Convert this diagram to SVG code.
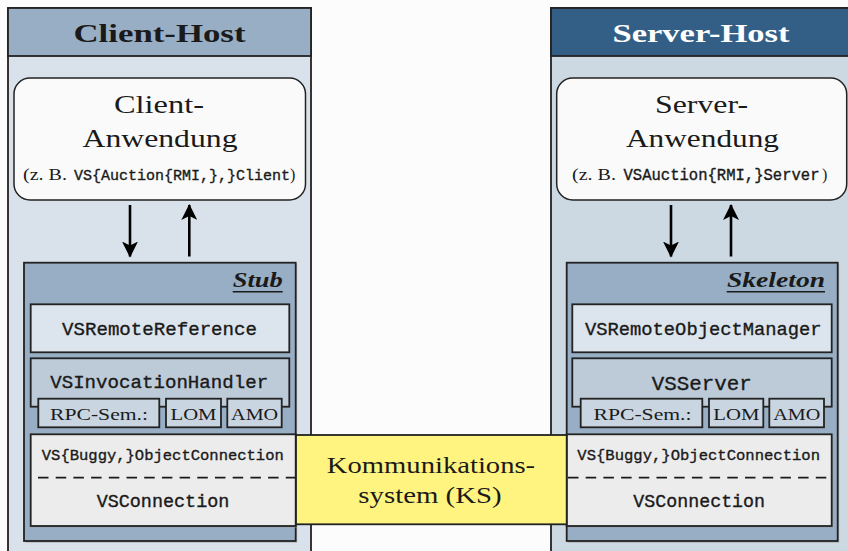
<svg xmlns="http://www.w3.org/2000/svg" width="848" height="551" viewBox="0 0 848 551">
<defs>
<style>
.serif{font-family:"Liberation Serif","DejaVu Serif",serif;fill:#1a1a1a}
.mono{font-family:"Liberation Mono","DejaVu Sans Mono",monospace;fill:#1a1a1a;stroke:#1a1a1a;stroke-width:0.35}
.ln{stroke:#222;stroke-width:1.8}
.thin{stroke:#222;stroke-width:1.5}
.inner{fill:#dce5ed}
.tab{fill:#c9d5e0}
.conn{fill:#ececec}
.arrow{stroke:#000;stroke-width:2.6;fill:none}
</style>
<marker id="ah" viewBox="0 0 16 16" refX="15" refY="8" markerWidth="16" markerHeight="16" markerUnits="userSpaceOnUse" orient="auto">
<path d="M0,0 L16,8 L0,16 L4,8 Z" fill="#000"/>
</marker>
</defs>
<rect width="848" height="551" fill="#fcfcfc"/>

<g id="client-host">
<rect x="8" y="8" width="303" height="560" fill="#d9e2ea" class="ln"/>
<rect x="8" y="8" width="303" height="48" fill="#98aec4" class="ln"/>
<text x="159.5" y="42" class="serif" font-size="26" font-weight="bold" text-anchor="middle" textLength="172" lengthAdjust="spacingAndGlyphs">Client-Host</text>
</g>

<g id="server-host">
<rect x="551" y="8" width="310" height="560" fill="#ccd8e2" class="ln"/>
<rect x="551" y="8" width="310" height="48" fill="#335f87" class="ln"/>
<text x="701" y="42" class="serif" font-size="26" font-weight="bold" text-anchor="middle" style="fill:#ffffff" textLength="177" lengthAdjust="spacingAndGlyphs">Server-Host</text>
</g>

<g id="client-app">
<rect x="14" y="78" width="291.5" height="122" rx="16" fill="#fafafa" class="thin"/>
<text x="159" y="112.5" class="serif" font-size="25" text-anchor="middle" textLength="90" lengthAdjust="spacingAndGlyphs">Client-</text>
<text x="160" y="147" class="serif" font-size="25" text-anchor="middle" textLength="155" lengthAdjust="spacingAndGlyphs">Anwendung</text>
<text y="180" font-size="15"><tspan x="23" class="serif" font-size="16" textLength="44" lengthAdjust="spacingAndGlyphs">(z. B.</tspan><tspan x="74" class="mono" textLength="216" lengthAdjust="spacingAndGlyphs">VS{Auction{RMI,},}Client</tspan><tspan x="290" class="serif" font-size="16">)</tspan></text>
</g>

<g id="server-app">
<rect x="556.7" y="78" width="290" height="122" rx="16" fill="#fafafa" class="thin"/>
<text x="701.5" y="112.5" class="serif" font-size="25" text-anchor="middle" textLength="93" lengthAdjust="spacingAndGlyphs">Server-</text>
<text x="702.5" y="147" class="serif" font-size="25" text-anchor="middle" textLength="153" lengthAdjust="spacingAndGlyphs">Anwendung</text>
<text y="180" font-size="15.6"><tspan x="572" class="serif" font-size="16" textLength="44" lengthAdjust="spacingAndGlyphs">(z. B.</tspan><tspan x="623.5" class="mono" textLength="196" lengthAdjust="spacingAndGlyphs">VSAuction{RMI,}Server</tspan><tspan x="822" class="serif" font-size="16">)</tspan></text>
</g>

<g id="connectors">
<line x1="130" y1="205" x2="130" y2="256.5" class="arrow" marker-end="url(#ah)"/>
<line x1="189.3" y1="256.5" x2="189.3" y2="205" class="arrow" marker-end="url(#ah)"/>
<line x1="671" y1="205" x2="671" y2="256.5" class="arrow" marker-end="url(#ah)"/>
<line x1="731" y1="256.5" x2="731" y2="205" class="arrow" marker-end="url(#ah)"/>
</g>

<g id="stub">
<rect x="25.5" y="264.5" width="271.7" height="278.3" fill="#999" opacity="0.5"/>
<rect x="24" y="262.7" width="271.7" height="278.3" fill="#98aec4" class="ln"/>
<text x="282.7" y="286.7" class="serif" font-size="20" font-weight="bold" font-style="italic" text-anchor="end" textLength="50" lengthAdjust="spacingAndGlyphs">Stub</text>
<line x1="232.7" y1="291.7" x2="282.7" y2="291.7" stroke="#1a1a1a" stroke-width="1.5"/>
</g>

<g id="vsremotereference">
<rect x="30.7" y="304.3" width="258.6" height="48" class="inner ln"/>
<text x="159.5" y="335" class="mono" font-size="19" text-anchor="middle" textLength="195" lengthAdjust="spacingAndGlyphs">VSRemoteReference</text>
</g>

<g id="vsinvocationhandler">
<rect x="30.7" y="358.3" width="258.6" height="48.4" fill="#bdcbd8" class="ln"/>
<text x="159.2" y="388.3" class="mono" font-size="19" text-anchor="middle" textLength="218" lengthAdjust="spacingAndGlyphs">VSInvocationHandler</text>
</g>

<g id="stub-rpc-sem">
<rect x="38.3" y="398.7" width="121" height="28.6" class="tab ln"/>
<text x="99" y="420" class="serif" font-size="17" text-anchor="middle" textLength="98" lengthAdjust="spacingAndGlyphs">RPC-Sem.:</text>
</g>
<g id="stub-lom">
<rect x="166" y="398.7" width="55" height="28.6" class="tab ln"/>
<text x="193.5" y="420" class="serif" font-size="17" text-anchor="middle" textLength="46" lengthAdjust="spacingAndGlyphs">LOM</text>
</g>
<g id="stub-amo">
<rect x="227.3" y="398.7" width="54.4" height="28.6" class="tab ln"/>
<text x="254.6" y="420" class="serif" font-size="17" text-anchor="middle" textLength="47" lengthAdjust="spacingAndGlyphs">AMO</text>
</g>

<g id="client-connection">
<rect x="32" y="436" width="265" height="91.7" fill="#999" opacity="0.5"/>
<rect x="30.7" y="434.3" width="265" height="91.7" class="conn ln"/>
<text x="162.8" y="460" class="mono" font-size="15.5" text-anchor="middle" textLength="242" lengthAdjust="spacingAndGlyphs">VS{Buggy,}ObjectConnection</text>
<line x1="38" y1="477.7" x2="295" y2="477.7" stroke="#1a1a1a" stroke-width="1.8" stroke-dasharray="10.5 7.2"/>
<text x="163" y="506.7" class="mono" font-size="18.4" text-anchor="middle" textLength="132.7" lengthAdjust="spacingAndGlyphs">VSConnection</text>
</g>

<g id="skeleton">
<rect x="568.2" y="264.5" width="271" height="278.3" fill="#999" opacity="0.5"/>
<rect x="566.7" y="262.7" width="271" height="278.3" fill="#98aec4" class="ln"/>
<text x="825" y="286.7" class="serif" font-size="20" font-weight="bold" font-style="italic" text-anchor="end" textLength="98" lengthAdjust="spacingAndGlyphs">Skeleton</text>
<line x1="726.7" y1="291.7" x2="825" y2="291.7" stroke="#1a1a1a" stroke-width="1.5"/>
</g>

<g id="vsremoteobjectmanager">
<rect x="572.3" y="304.3" width="259.4" height="48" class="inner ln"/>
<text x="703.3" y="335" class="mono" font-size="18.8" text-anchor="middle" textLength="236.7" lengthAdjust="spacingAndGlyphs">VSRemoteObjectManager</text>
</g>

<g id="vsserver">
<rect x="572.3" y="358.3" width="259.4" height="48.4" fill="#bdcbd8" class="ln"/>
<text x="701.7" y="390" class="mono" font-size="20.8" text-anchor="middle" textLength="100" lengthAdjust="spacingAndGlyphs">VSServer</text>
</g>

<g id="server-rpc-sem">
<rect x="580.7" y="398.7" width="121.6" height="28.6" class="tab ln"/>
<text x="642.5" y="420" class="serif" font-size="17" text-anchor="middle" textLength="98" lengthAdjust="spacingAndGlyphs">RPC-Sem.:</text>
</g>
<g id="server-lom">
<rect x="709" y="398.7" width="54.3" height="28.6" class="tab ln"/>
<text x="736.3" y="420" class="serif" font-size="17" text-anchor="middle" textLength="46" lengthAdjust="spacingAndGlyphs">LOM</text>
</g>
<g id="server-amo">
<rect x="769.3" y="398.7" width="54.7" height="28.6" class="tab ln"/>
<text x="796.7" y="420" class="serif" font-size="17" text-anchor="middle" textLength="47" lengthAdjust="spacingAndGlyphs">AMO</text>
</g>

<g id="server-connection">
<rect x="568.2" y="436" width="265" height="91.7" fill="#999" opacity="0.5"/>
<rect x="566.7" y="434.3" width="265" height="91.7" class="conn ln"/>
<text x="698.7" y="460" class="mono" font-size="15.5" text-anchor="middle" textLength="242.7" lengthAdjust="spacingAndGlyphs">VS{Buggy,}ObjectConnection</text>
<line x1="568" y1="477.7" x2="831" y2="477.7" stroke="#1a1a1a" stroke-width="1.8" stroke-dasharray="10.5 7.2"/>
<text x="699.2" y="506.7" class="mono" font-size="18.4" text-anchor="middle" textLength="131.7" lengthAdjust="spacingAndGlyphs">VSConnection</text>
</g>

<g id="kommunikationssystem">
<rect x="296" y="435" width="270.7" height="89.3" fill="#fff480" class="ln"/>
<text x="431" y="473.3" class="serif" font-size="23" text-anchor="middle" textLength="208.3" lengthAdjust="spacingAndGlyphs">Kommunikations-</text>
<text x="430" y="503.3" class="serif" font-size="23" text-anchor="middle" textLength="143.3" lengthAdjust="spacingAndGlyphs">system (KS)</text>
</g>
</svg>
